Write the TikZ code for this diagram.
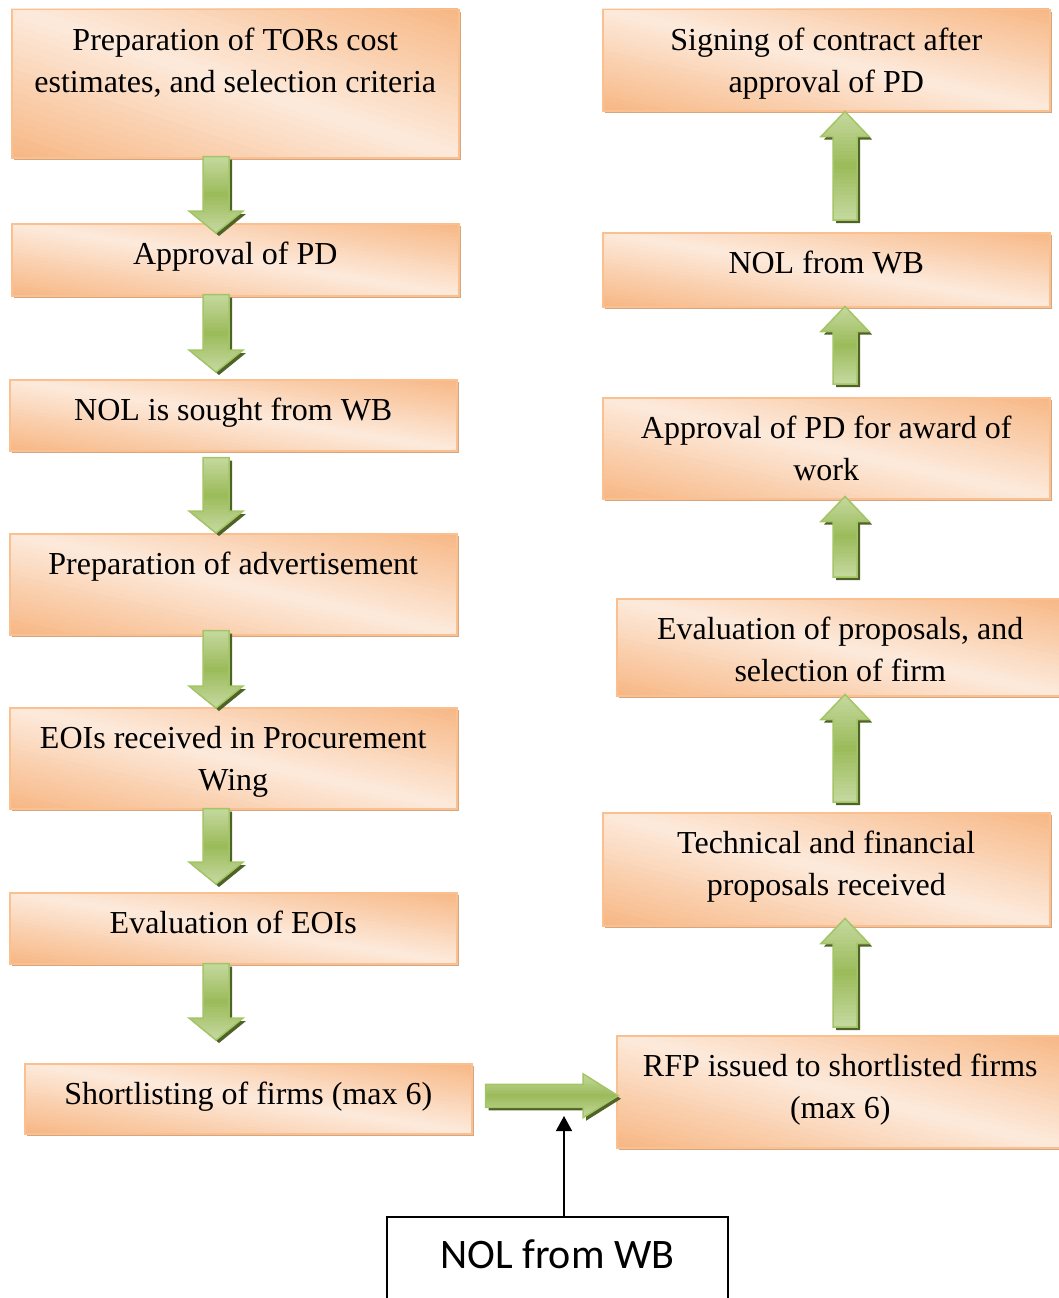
\documentclass[tikz,border=0pt]{standalone}
\usepackage{fontspec}
\setmainfont{Liberation Serif}
\newfontfamily\notefont{Carlito}
\usetikzlibrary{calc,arrows.meta}

\definecolor{boxedge}{HTML}{FAC08F}
\definecolor{boxshadow}{HTML}{D4A681}
\definecolor{peachlight}{HTML}{FDEADC}
\definecolor{peachdark}{HTML}{F7B784}
\definecolor{greenlight}{HTML}{C5D9A0}
\definecolor{greenmid}{HTML}{9BBB59}
\definecolor{greenedge}{HTML}{A3C566}
\definecolor{greenshadow}{HTML}{4F6228}

% unit frame spanning the bounding box of the current path picture
\tikzset{unitframe/.style={shift={(path picture bounding box.south west)},
  x={($(path picture bounding box.south east)-(path picture bounding box.south west)$)},
  y={($(path picture bounding box.north west)-(path picture bounding box.south west)$)}}}

% diagonal gradient: #1 at the lower-left and upper-right corners, #2 along the other diagonal
\newcommand\diaggrad[2]{%
  \begin{scope}[unitframe]
    \foreach \k in {0,...,39}{%
      \pgfmathsetmacro\sa{\k/40}%
      \pgfmathsetmacro\sb{(\k+1.4)/40}%
      \pgfmathsetmacro\pc{100*abs(2*(\k+0.5)/40-1)}%
      \fill[#1!\pc!#2] (2*\sa+1,-1) -- (2*\sa-2,2) -- (2*\sb-2,2) -- (2*\sb+1,-1) -- cycle;}
  \end{scope}}

% vertical gradient: #1 at top and bottom, #2 in the middle
\newcommand\vertgrad[2]{%
  \begin{scope}[unitframe]
    \foreach \k in {0,...,29}{%
      \pgfmathsetmacro\sa{\k/30}%
      \pgfmathsetmacro\sb{(\k+1.4)/30}%
      \pgfmathsetmacro\pc{100*abs(2*(\k+0.5)/30-1)}%
      \fill[#1!\pc!#2] (-0.1,\sa) rectangle (1.1,\sb);}
  \end{scope}}

% flow step: shaded panel, then the framed text box on top of it
\newcommand\flowbox[6]{%
  \path[boxback] (#2,#3) rectangle ++(#4,#5);
  \node[stepbox] (#1) at (#2,#3)
    {\parbox[t][#5pt][t]{#4pt}{\centering\vspace*{11.6pt}\strut #6}};}

% broad green arrows between steps (tail point, tip point)
\newcommand\fatdown[2]{%
  \path[fatarrow] let \p1=#1, \p2=#2 in
    (\x1-13pt,\y1) -- (\x1-13pt,\y2+22pt) -- (\x1-27pt,\y2+22pt) -- (\x1,\y2)
    -- (\x1+27pt,\y2+22pt) -- (\x1+13pt,\y2+22pt) -- (\x1+13pt,\y1) -- cycle;}
\newcommand\fatup[2]{%
  \path[fatarrow] let \p1=#1, \p2=#2 in
    (\x1-12pt,\y1) -- (\x1-12pt,\y2-25pt) -- (\x1-24pt,\y2-25pt) -- (\x1,\y2)
    -- (\x1+24pt,\y2-25pt) -- (\x1+12pt,\y2-25pt) -- (\x1+12pt,\y1) -- cycle;}
\newcommand\fatright[2]{%
  \path[fatarrow] let \p1=#1, \p2=#2 in
    (\x1,\y1+11.5pt) -- (\x2-35pt,\y1+11.5pt) -- (\x2-35pt,\y1+22pt) -- (\x2,\y1)
    -- (\x2-35pt,\y1-22pt) -- (\x2-35pt,\y1-11.5pt) -- (\x1,\y1-11.5pt) -- cycle;}

\tikzset{
  boxback/.style={fill=peachlight, path picture={\diaggrad{peachdark}{peachlight}},
    preaction={fill=boxshadow, transform canvas={shift={(3pt,-3pt)}}}},
  stepbox/.style={anchor=north west, inner sep=0pt, draw=boxedge, line width=1.5pt,
    font=\fontsize{32}{42}\selectfont},
  fatarrow/.style={draw=greenedge, line width=1.5pt, line join=miter,
    fill=greenmid, path picture={\vertgrad{greenlight}{greenmid}},
    preaction={fill=greenshadow, transform canvas={shift={(3pt,-3pt)}}}},
  notebox/.style={anchor=north west, inner sep=0pt, draw=black, line width=1.5pt,
    fill=white, font=\notefont\fontsize{42}{50}\selectfont},
  notearrow/.style={draw=black, line width=1.5pt, -{Triangle[length=15pt,width=16pt]}}
}

\begin{document}
\begin{tikzpicture}[x=1pt, y=-1pt]
\useasboundingbox (0,0) rectangle (1058,1298);

% left column, top to bottom
\flowbox{b1}{11}{9}{447}{148}{Preparation of TORs cost\\estimates, and selection criteria}
\flowbox{b2}{11}{223}{447}{72}{Approval of PD}
\flowbox{b3}{9}{379}{447}{71}{NOL is sought from WB}
\flowbox{b4}{9}{533}{447}{101}{Preparation of advertisement}
\flowbox{b5}{9}{707}{447}{101}{EOIs received in Procurement\\Wing}
\flowbox{b6}{9}{892}{447}{71}{Evaluation of EOIs}
\flowbox{b7}{24}{1063}{447}{70}{Shortlisting of firms (max 6)}

% right column, bottom to top
\flowbox{r6}{616}{1035}{447}{112}{RFP issued to shortlisted firms\\(max 6)}
\flowbox{r5}{602}{812}{447}{113}{Technical and financial\\proposals received}
\flowbox{r4}{616}{598}{447}{97}{Evaluation of proposals, and\\selection of firm}
\flowbox{r3}{602}{397}{447}{101}{Approval of PD for award of\\work}
\flowbox{r2}{602}{232}{447}{74}{NOL from WB}
\flowbox{r1}{602}{9}{447}{101}{Signing of contract after\\approval of PD}

% column axes of the green arrows
\coordinate (lx) at (216,0);
\coordinate (rx) at (845,0);

\fatdown{($(b1.south -| lx)+(0,-2)$)}{($(b2.north -| lx)+(0,10)$)}
\fatdown{($(b2.south -| lx)+(0,-2)$)}{($(b3.north -| lx)+(0,-7)$)}
\fatdown{($(b3.south -| lx)+(0,6)$)}{($(b4.north -| lx)+(0,0)$)}
\fatdown{($(b4.south -| lx)+(0,-5)$)}{($(b5.north -| lx)+(0,1)$)}
\fatdown{($(b5.south -| lx)+(0,-1)$)}{($(b6.north -| lx)+(0,-8)$)}
\fatdown{($(b6.south -| lx)+(0,-1)$)}{($(b7.north -| lx)+(0,-23)$)}

\fatright{($(b7.east)+(13,-3)$)}{($(r6.west)+(2,0)$)}

\fatup{($(r6.north -| rx)+(0,-8)$)}{($(r5.south -| rx)+(0,-8)$)}
\fatup{($(r5.north -| rx)+(0,-10)$)}{($(r4.south -| rx)+(0,-2)$)}
\fatup{($(r4.north -| rx)+(0,-21)$)}{($(r3.south -| rx)+(0,-3)$)}
\fatup{($(r3.north -| rx)+(0,-13)$)}{($(r2.south -| rx)+(0,-1)$)}
\fatup{($(r2.north -| rx)+(0,-12)$)}{($(r1.south -| rx)+(0,0)$)}

% outside approval feeding the RFP step
\node[notebox] (wb) at (386,1216)
  {\parbox[t][110pt][t]{341pt}{\centering\vspace*{17pt}\strut NOL from WB}};
\coordinate (wbin) at (564,1116);
\draw[notearrow] (wb.north -| wbin) -- (wbin);
\end{tikzpicture}
\end{document}
